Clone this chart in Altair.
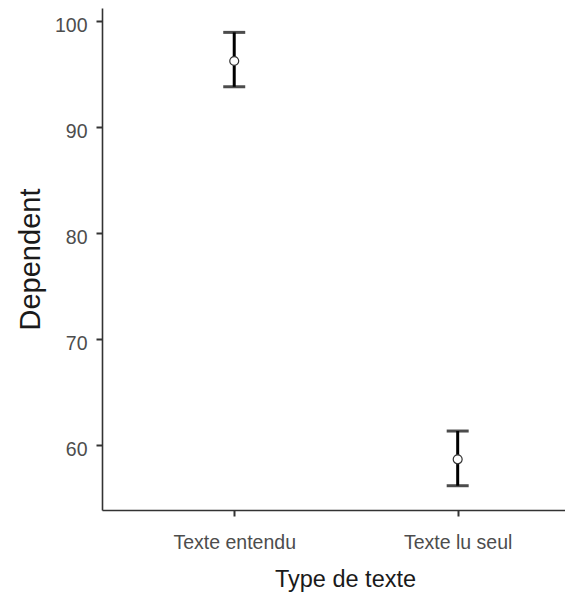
import altair as alt
import pandas as pd

groups = ["Texte entendu", "Texte lu seul"]
means = [96.23, 58.65]
lower = [93.80, 56.16]
upper = [98.93, 61.32]

df = pd.DataFrame({"group": groups, "mean": means, "lower": lower, "upper": upper})

FONT = "Liberation Sans"

x = alt.X(
    "group:N",
    sort=groups,
    scale=alt.Scale(type="point", padding=0.536, align=0.552),
    axis=alt.Axis(
        title="Type de texte",
        titleFont=FONT,
        titleFontSize=23.5,
        titleFontWeight="normal",
        titleColor="#1a1a1a",
        titleX=243,
        titleY=76,
        titleAlign="center",
        titleBaseline="alphabetic",
        labelFont=FONT,
        labelFontSize=19.5,
        labelColor="#4d4d4d",
        labelAngle=0,
        labelBaseline="alphabetic",
        labelPadding=32,
        tickSize=6,
        tickWidth=2,
        tickColor="#333333",
        domainColor="#333333",
        domainWidth=1.6,
        grid=False,
    ),
)

y_scale = alt.Scale(domain=[53.87, 101.23], nice=False, zero=False)

y_axis = alt.Axis(
    title="Dependent",
    titleFont=FONT,
    titleFontSize=29,
    titleFontWeight="normal",
    titleColor="#1a1a1a",
    titleX=-72,
    titleY=251,
    titleAngle=270,
    titleAlign="center",
    titleBaseline="middle",
    labelFont=FONT,
    labelFontSize=19.5,
    labelColor="#4d4d4d",
    labelBaseline="middle",
    labelOffset=4,
    labelPadding=9,
    tickSize=6,
    tickWidth=2,
    tickColor="#333333",
    domainColor="#333333",
    domainWidth=1.6,
    values=[60, 70, 80, 90, 100],
    grid=False,
)

base = alt.Chart(df)

rule = base.mark_rule(color="black", strokeWidth=3).encode(
    x=x,
    y=alt.Y("lower:Q", scale=y_scale, axis=y_axis),
    y2="upper:Q",
)

cap_low = base.mark_tick(color="black", orient="horizontal", size=22, thickness=3).encode(
    x=alt.X("group:N", sort=groups),
    y=alt.Y("lower:Q"),
)
cap_high = base.mark_tick(color="black", orient="horizontal", size=22, thickness=3).encode(
    x=alt.X("group:N", sort=groups),
    y=alt.Y("upper:Q"),
)

pts = base.mark_point(
    filled=True, fill="white", stroke="#333333", strokeWidth=1.2, size=80, shape="circle", opacity=1
).encode(
    x=alt.X("group:N", sort=groups),
    y=alt.Y("mean:Q"),
)

chart = (
    alt.layer(rule, cap_low, cap_high, pts)
    .properties(
        width=463,
        height=502,
        autosize=alt.AutoSizeParams(type="none"),
        padding={"left": 94, "top": 0, "right": 0, "bottom": 82},
        background="white",
    )
    .configure_view(stroke=None)
)

chart.save("out.html", embed_options={"renderer": "svg", "actions": False})
